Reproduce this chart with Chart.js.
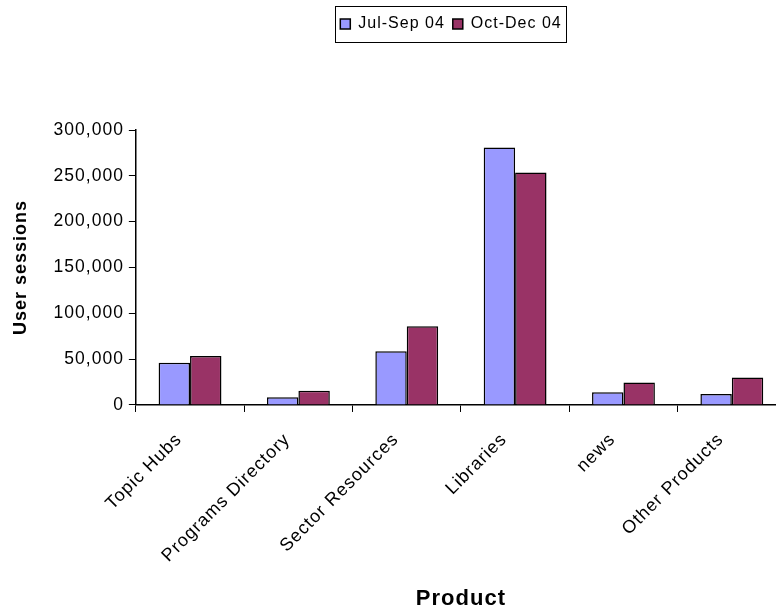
<!DOCTYPE html>
<html>
<head>
<meta charset="utf-8">
<script src="https://cdn.jsdelivr.net/npm/chart.js@4/dist/chart.umd.min.js"></script>
<style>
  html, body { margin: 0; padding: 0; background: #fff; overflow: hidden; }
  #wrap { width: 786px; height: 612px; }
</style>
</head>
<body>
<div id="wrap"><canvas id="usageChart" width="786" height="612"></canvas></div>
<script>
const categories = ['Topic Hubs', 'Programs Directory', 'Sector Resources', 'Libraries', 'news', 'Other Products'];
const julSep04 = [46000, 8300, 58700, 280800, 13800, 12000];
const octDec04 = [53300, 15600, 85900, 253600, 24600, 30100];
const yTicks = [0, 50000, 100000, 150000, 200000, 250000, 300000];

const font = '"Liberation Sans", Arial, sans-serif';
const legendShift = 53;

// the original text is set a little wider than plain Arial
const wideText = {
  id: 'wideText',
  beforeLayout(chart) { chart.ctx.letterSpacing = '1px'; },
  beforeDraw(chart) { chart.ctx.letterSpacing = '1px'; }
};

// push the plot down below the legend, like the original
const legendSpace = {
  id: 'legendSpace',
  beforeInit(chart) {
    const fit = chart.legend.fit;
    chart.legend.fit = function () {
      fit.bind(chart.legend)();
      this.height += 88;
    };
  },
  afterLayout(chart) {
    // legend sits right of centre in the original
    const lg = chart.legend;
    lg.left += legendShift;
    lg.right += legendShift;
    (lg.legendHitBoxes || []).forEach(b => { b.left += legendShift; });
  }
};

// black frame round the legend entries
const legendFrame = {
  id: 'legendFrame',
  afterDraw(chart) {
    const boxes = chart.legend.legendHitBoxes;
    if (!boxes || !boxes.length) return;
    const first = boxes[0], last = boxes[boxes.length - 1];
    const ctx = chart.ctx;
    ctx.save();
    ctx.strokeStyle = '#000';
    ctx.lineWidth = 1;
    ctx.strokeRect(Math.round(first.left - 5) + 0.5, Math.round(first.top - 10) + 0.5,
      Math.round(last.left + last.width - first.left + 10), Math.round(first.height + 20));
    ctx.restore();
  }
};

new Chart(document.getElementById('usageChart').getContext('2d'), {
  type: 'bar',
  data: {
    labels: categories,
    datasets: [{
      label: 'Jul-Sep 04',
      data: julSep04,
      backgroundColor: '#9999FF',
      borderColor: '#000',
      borderWidth: 1.5
    }, {
      label: 'Oct-Dec 04',
      data: octDec04,
      backgroundColor: '#993366',
      borderColor: '#000',
      borderWidth: 1.5
    }]
  },
  options: {
    responsive: false,
    animation: false,
    layout: { padding: { top: 8, left: 10, right: 0, bottom: 0 } },
    datasets: { bar: { barPercentage: 1, categoryPercentage: 0.58 } },
    plugins: {
      legend: {
        display: true,
        position: 'top',
        labels: {
          color: '#000',
          font: { family: font, size: 16 },
          boxWidth: 10,
          boxHeight: 10,
          padding: 8,
          useBorderRadius: false
        }
      },
      tooltip: { enabled: false }
    },
    scales: {
      x: {
        grid: { display: true, drawOnChartArea: false, color: '#000', tickLength: 7, offset: true },
        border: { color: '#000', width: 1.5 },
        ticks: {
          color: '#000',
          font: { family: font, size: 18 },
          minRotation: 45,
          maxRotation: 45,
          padding: 17,
          labelOffset: -11
        },
        title: {
          display: true,
          text: 'Product',
          color: '#000',
          font: { family: font, size: 22, weight: 'bold' },
          padding: { top: 2, bottom: 0 }
        }
      },
      y: {
        min: 0,
        max: 300000,
        afterBuildTicks(axis) { axis.ticks = yTicks.map(v => ({ value: v })); },
        grid: { display: true, drawOnChartArea: false, color: '#000', tickLength: 7 },
        border: { color: '#000', width: 1.5 },
        ticks: {
          color: '#000',
          font: { family: font, size: 17.5 },
          padding: 5,
          callback: v => v.toLocaleString('en-US')
        },
        title: {
          display: true,
          text: 'User sessions',
          color: '#000',
          font: { family: font, size: 18, weight: 'bold' },
          padding: { top: 0, bottom: 17 }
        }
      }
    }
  },
  plugins: [wideText, legendSpace, legendFrame]
});
</script>
</body>
</html>
